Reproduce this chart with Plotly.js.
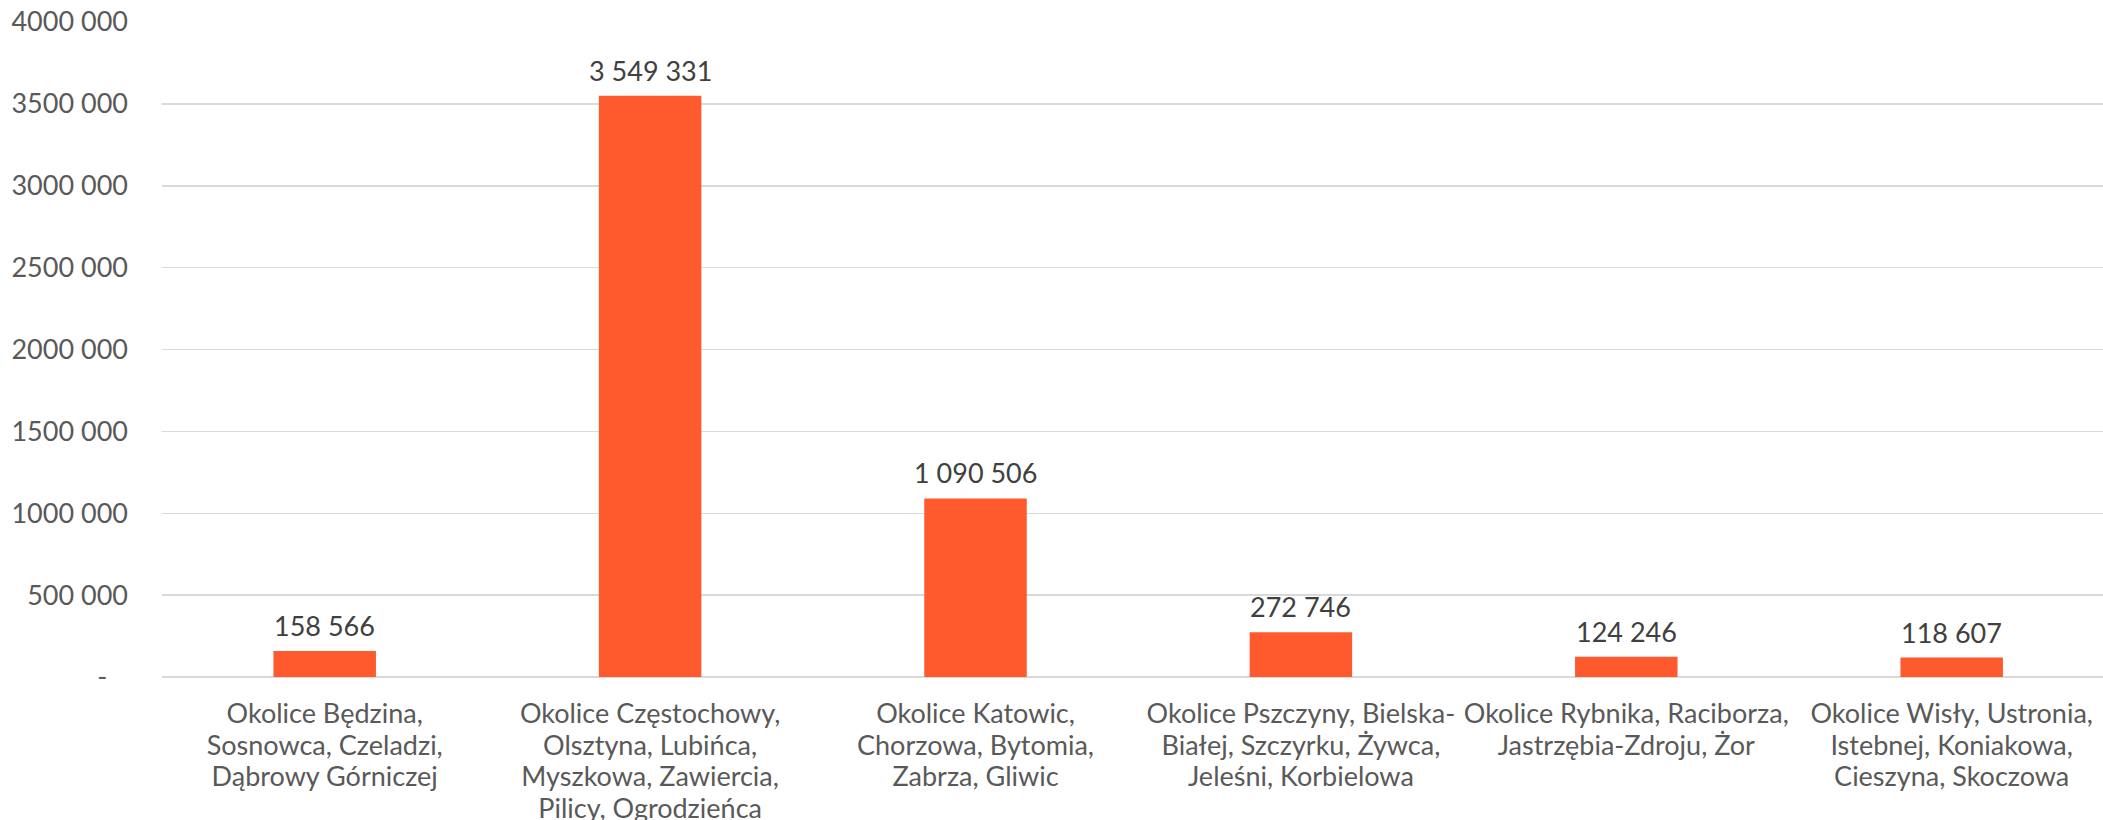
<!DOCTYPE html>
<html>
<head>
<meta charset="utf-8">
<script src="https://cdn.plot.ly/plotly-3.0.1.min.js"></script>
<style>html,body{margin:0;padding:0;background:#fff;}#chart{width:2103px;height:820px;}</style>
</head>
<body>
<div id="chart"></div>
<script>
const categories = [
  "Okolice Będzina,<br>Sosnowca, Czeladzi,<br>Dąbrowy Górniczej",
  "Okolice Częstochowy,<br>Olsztyna, Lubińca,<br>Myszkowa, Zawiercia,<br>Pilicy, Ogrodzieńca",
  "Okolice Katowic,<br>Chorzowa, Bytomia,<br>Zabrza, Gliwic",
  "Okolice Pszczyny, Bielska-<br>Białej, Szczyrku, Żywca,<br>Jeleśni, Korbielowa",
  "Okolice Rybnika, Raciborza,<br>Jastrzębia-Zdroju, Żor",
  "Okolice Wisły, Ustronia,<br>Istebnej, Koniakowa,<br>Cieszyna, Skoczowa"
];
const values = [158566, 3549331, 1090506, 272746, 124246, 118607];
const yTickVals = [0, 500000, 1000000, 1500000, 2000000, 2500000, 3000000, 3500000, 4000000];
const yTickText = ["-\u00a0\u00a0\u00a0", "500 000", "1000 000", "1500 000", "2000 000", "2500 000", "3000 000", "3500 000", "4000 000"];

function fmt(v) {
  return String(v).replace(/\B(?=(\d{3})+(?!\d))/g, " ");
}

const FONT = "Lato, 'Open Sans', sans-serif";
const FS = 27;

const trace = {
  type: "bar",
  x: categories,
  y: values,
  marker: { color: "#FF5A2D" },
  hoverinfo: "none"
};

const annotations = categories.map((c, i) => ({
  x: c,
  y: values[i],
  xref: "x",
  yref: "y",
  text: fmt(values[i]),
  showarrow: false,
  yanchor: "bottom",
  yshift: 7,
  font: { family: FONT, size: FS, color: "#404040" }
}));

const layout = {
  width: 2103,
  height: 820,
  margin: { l: 162, r: 0, t: 22, b: 143, pad: 0 },
  paper_bgcolor: "#ffffff",
  plot_bgcolor: "#ffffff",
  showlegend: false,
  bargap: 0.685,
  font: { family: FONT, size: FS, color: "#595959" },
  xaxis: {
    type: "category",
    range: [-0.5, 5.465],
    automargin: false,
    showgrid: false,
    showline: false,
    zeroline: false,
    ticks: "",
    ticklabelstandoff: 18,
    tickfont: { family: FONT, size: FS, color: "#595959" }
  },
  yaxis: {
    range: [0, 4000000],
    automargin: false,
    tickmode: "array",
    tickvals: yTickVals,
    ticktext: yTickText,
    showgrid: true,
    gridcolor: "#d9d9d9",
    gridwidth: 1.5,
    zeroline: true,
    zerolinecolor: "#d9d9d9",
    zerolinewidth: 1.5,
    showline: false,
    ticks: "",
    ticklabelstandoff: 33,
    tickfont: { family: FONT, size: FS, color: "#595959" }
  },
  annotations: annotations
};

Plotly.newPlot("chart", [trace], layout, { displayModeBar: false, staticPlot: true }).then(function (gd) {
  // tighten multi-line category label spacing to match the reference
  gd.querySelectorAll(".xtick text").forEach(function (t) {
    t.querySelectorAll("tspan.line").forEach(function (ts, i) {
      ts.setAttribute("dy", (i * 1.175) + "em");
    });
  });
});
</script>
</body>
</html>
